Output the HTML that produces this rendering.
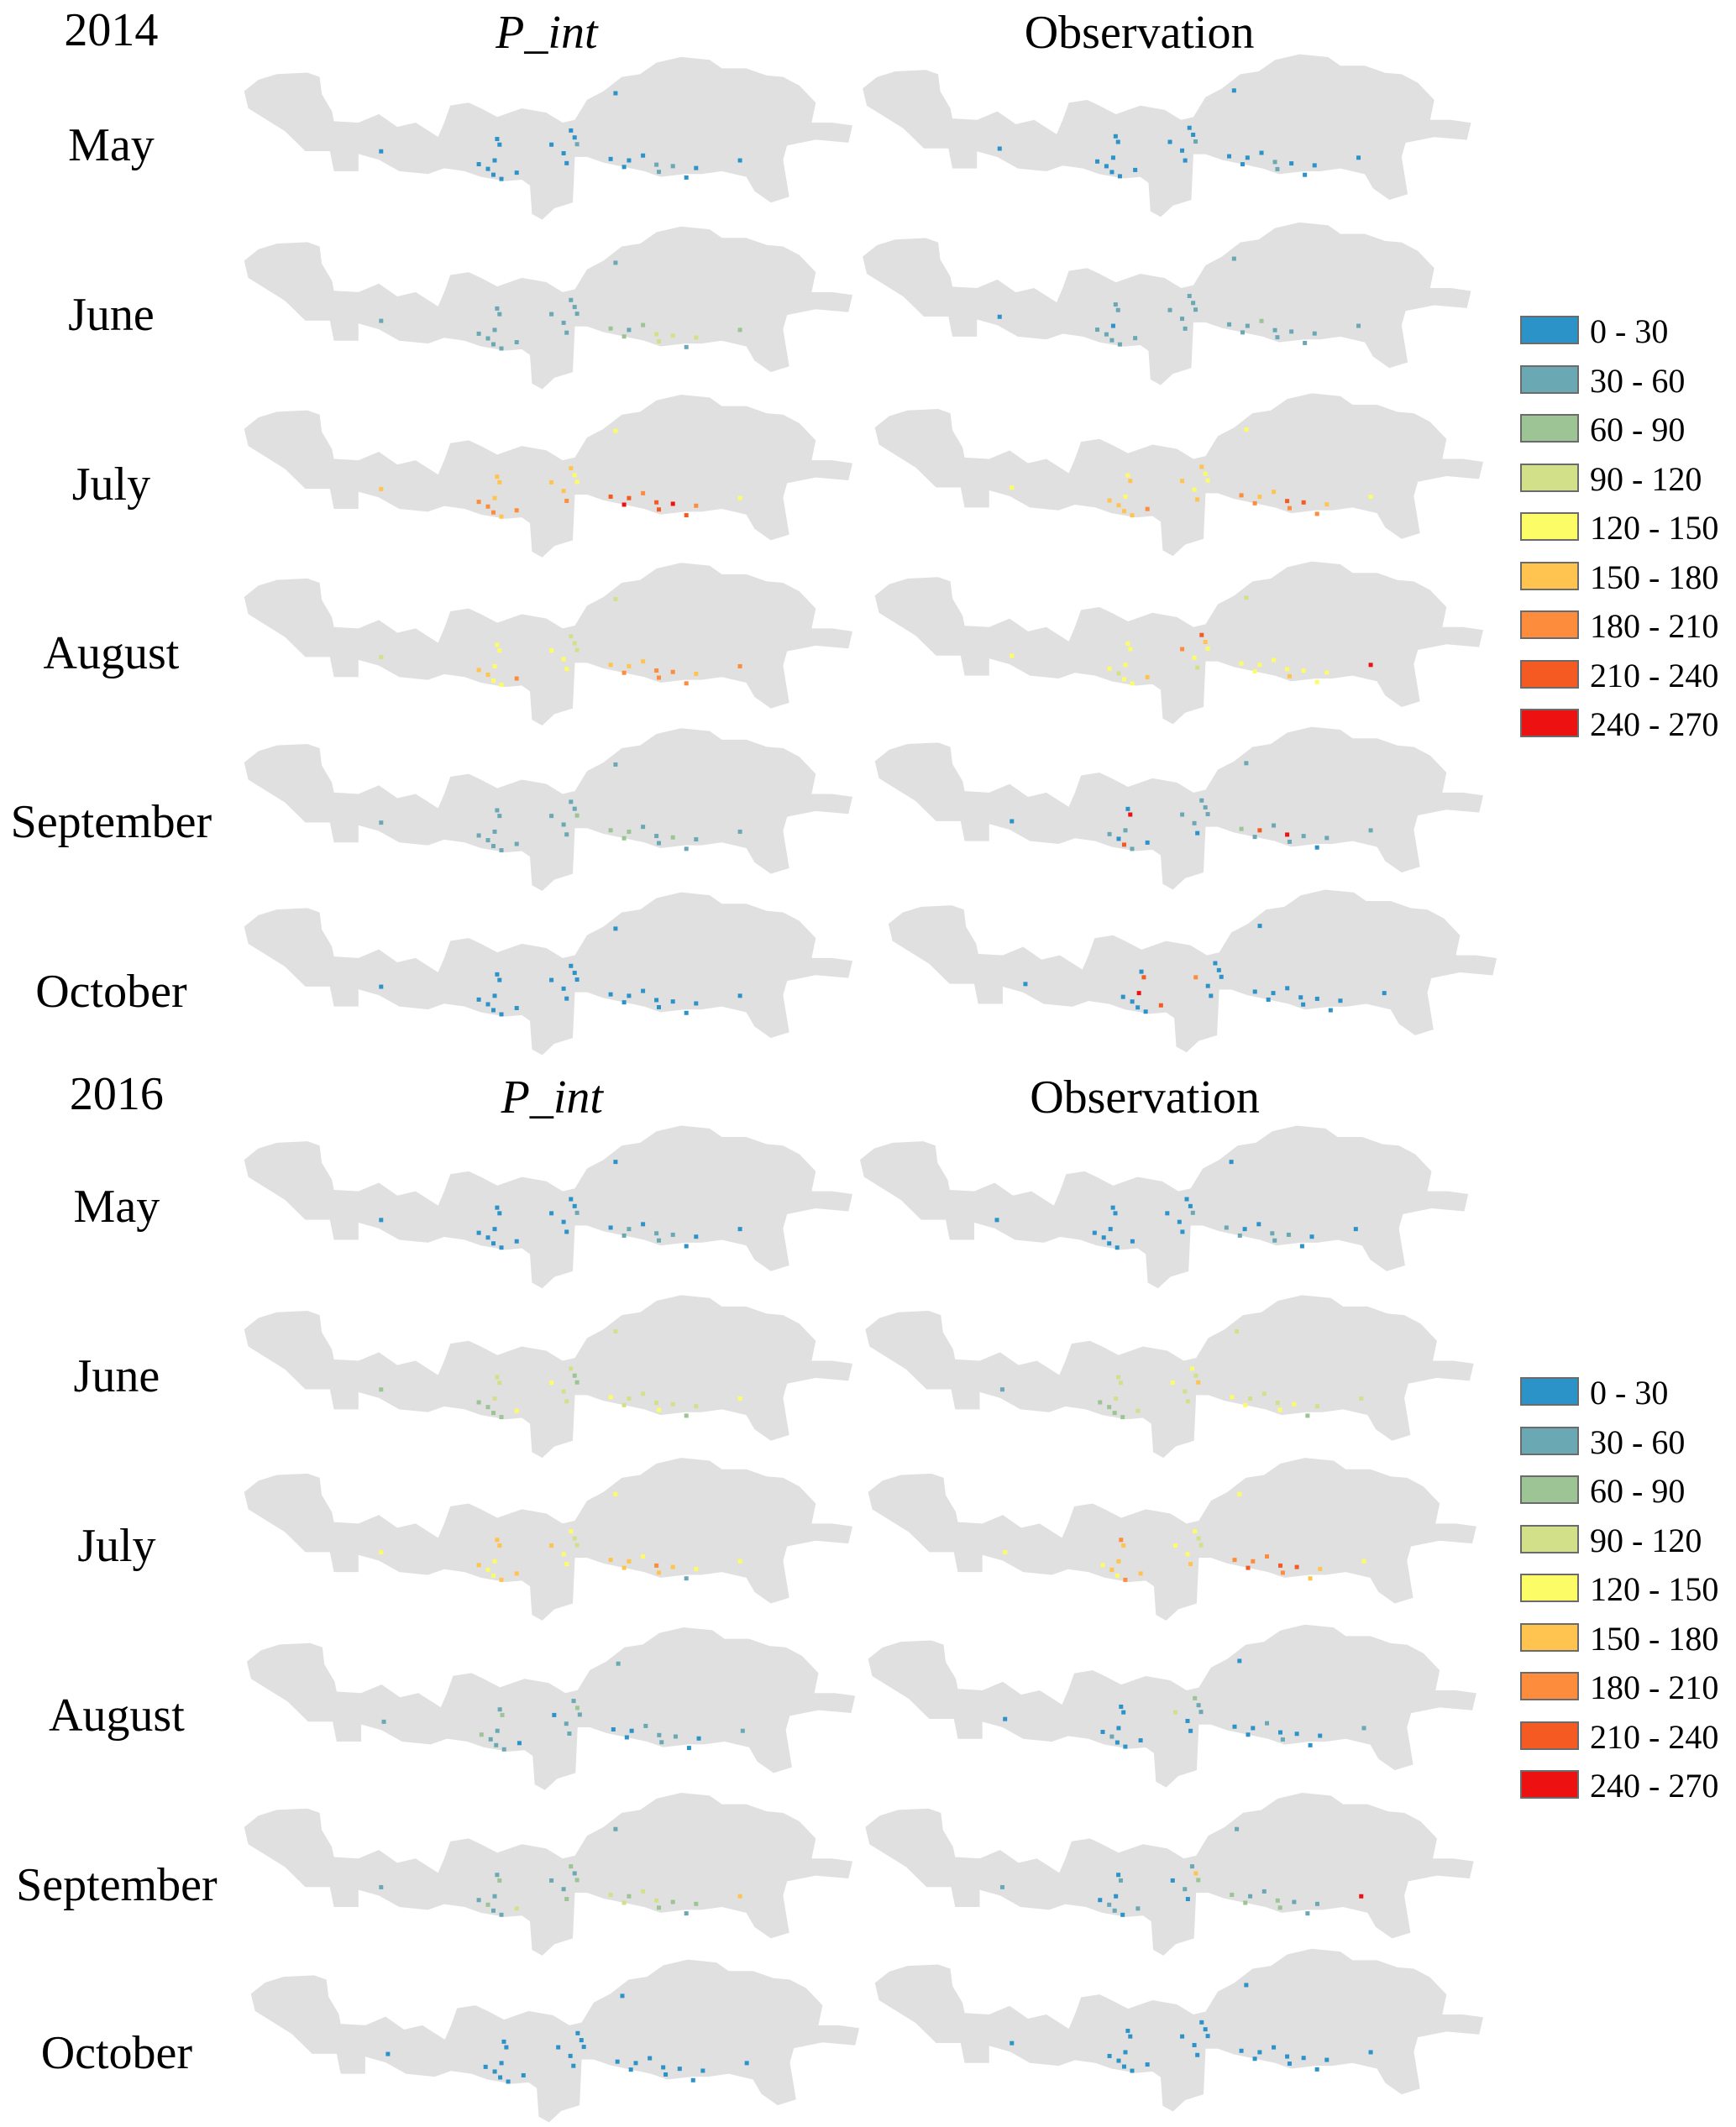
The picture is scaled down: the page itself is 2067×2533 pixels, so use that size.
<!DOCTYPE html>
<html><head><meta charset="utf-8"><style>
body{margin:0;background:#fff;}
#fig{position:relative;width:2067px;height:2533px;overflow:hidden;font-family:"Liberation Serif",serif;color:#000;}
.t{position:absolute;font-size:56px;transform:translate(-50%,-50%);white-space:nowrap;line-height:1;}
.lg{position:absolute;font-size:40px;line-height:1;white-space:nowrap;}
.sw{position:absolute;width:70px;height:34px;border:2px solid #6b6b6b;box-sizing:border-box;}
</style></head><body>
<div id="fig">
<svg id="maps" width="2067" height="2533" style="position:absolute;left:0;top:0"></svg>
</div>
<script>
// ---- data ----
const years=["2014","2016"];
const months=["May","June","July","August","September","October"];
const columns=["P_int","Observation"];
const classLabels=["0 - 30","30 - 60","60 - 90","90 - 120","120 - 150","150 - 180","180 - 210","210 - 240","240 - 270"];
const classColors=["#2b93c8","#6aa8b4","#9cc495","#d3e08a","#fcfc66","#fec44f","#fd8d3c","#f55a22","#ee1111"];
// grid cell locations (fractions of map bounding box)
const cellX=[0.411,0.415,0.407,0.396,0.405,0.418,0.443,0.500,0.520,0.525,0.532,0.538,0.542,0.597,0.619,0.627,0.650,0.672,0.676,0.699,0.721,0.737,0.809,0.381,0.221,0.605];
const cellY=[0.491,0.526,0.623,0.675,0.711,0.737,0.698,0.526,0.579,0.640,0.439,0.482,0.523,0.614,0.663,0.623,0.593,0.649,0.693,0.658,0.728,0.670,0.623,0.646,0.567,0.210];
// monthly values (mm) per panel: [year][column][month]
const vals2014P=[
[10,12,8,15,20,10,12,18,8,14,10,12,40,15,10,12,20,35,40,30,15,20,25,12,10,18],
[40,35,30,40,45,35,50,40,30,45,40,45,50,70,60,50,80,110,100,95,40,100,60,35,30,50],
[160,170,150,180,190,160,200,170,150,180,160,140,130,230,240,220,200,235,225,240,210,190,130,180,150,140],
[130,140,125,150,135,130,190,125,130,140,100,110,105,170,180,160,175,190,185,180,195,170,190,160,100,90],
[40,45,30,50,35,40,45,30,40,45,50,55,60,70,80,60,55,45,50,60,40,35,45,30,30,40],
[15,20,10,20,25,15,18,12,15,20,18,22,15,10,12,14,18,20,22,15,12,15,25,10,15,20]];
const vals2014O=[
[12,15,10,20,15,12,18,20,10,12,15,20,30,18,12,15,25,30,35,28,18,22,20,15,12,15],
[35,40,25,45,40,30,45,35,30,40,45,40,55,40,50,45,60,45,50,40,35,40,45,30,25,40],
[140,150,130,160,170,150,180,150,140,160,150,140,130,180,190,170,160,220,200,210,180,160,130,150,130,140],
[120,130,140,110,125,130,150,190,120,110,210,150,120,140,130,125,130,140,150,135,120,140,240,130,120,100],
[20,240,30,25,220,40,20,30,35,20,45,30,40,60,40,230,50,240,30,45,25,40,30,30,20,40],
[15,230,240,20,10,15,230,200,15,12,20,10,15,15,10,12,18,20,22,15,10,12,15,12,15,20]];
const vals2016P=[
[10,12,15,18,12,10,15,20,12,15,20,18,40,25,30,35,15,40,35,30,20,25,20,15,12,18],
[100,110,90,80,70,60,120,130,110,100,90,80,70,130,100,110,90,100,140,110,80,90,130,70,60,100],
[150,160,140,130,140,150,160,150,130,140,120,110,100,170,160,150,140,180,170,160,40,120,130,150,130,120],
[40,60,50,30,40,30,20,20,30,40,50,60,30,20,15,20,30,45,40,30,20,25,35,60,30,40],
[40,60,50,70,30,40,90,30,40,60,80,50,60,100,90,80,100,110,60,70,40,60,160,40,30,50],
[15,20,10,18,12,15,20,10,12,15,18,20,22,10,12,15,18,20,15,20,12,15,25,10,12,20]];
const vals2016O=[
[15,20,12,18,15,10,15,20,12,18,20,22,35,40,30,20,25,30,35,30,20,25,20,15,12,18],
[100,90,110,80,70,60,110,120,90,100,120,110,160,120,130,110,100,110,130,120,70,90,110,60,50,100],
[190,170,150,160,140,180,160,130,140,150,120,110,100,200,210,190,180,230,200,210,150,170,130,140,130,120],
[20,25,15,30,20,15,20,90,20,25,60,30,40,20,25,20,30,25,30,20,15,25,30,20,15,25],
[25,30,20,40,30,20,30,25,30,20,40,160,60,70,60,50,40,80,60,50,30,40,240,20,30,40],
[15,20,12,18,12,10,20,15,12,18,15,20,20,15,12,10,18,20,15,12,10,15,20,12,15,18]];
const panelVals={"2014":[vals2014P,vals2014O],"2016":[vals2016P,vals2016O]};
// ---- layout ----
const shape=[[20,190],[55,150],[100,130],[175,125],[205,140],[210,200],[235,260],[240,295],[300,300],[350,270],[395,315],[440,300],[495,350],[510,300],[525,240],[570,230],[600,250],[640,280],[700,250],[760,265],[800,300],[830,290],[860,220],[900,190],[945,140],[990,130],[1030,90],[1090,70],[1160,80],[1190,110],[1250,110],[1300,135],[1340,140],[1380,170],[1420,230],[1410,300],[1460,300],[1510,310],[1500,370],[1420,360],[1350,380],[1340,430],[1355,560],[1310,580],[1270,540],[1250,490],[1190,470],[1140,480],[1100,480],[1040,490],[1000,470],[900,440],[860,420],[830,420],[825,580],[780,600],[750,640],[725,620],[720,520],[700,500],[660,505],[600,490],[560,470],[510,460],[470,480],[400,470],[350,430],[300,410],[300,470],[240,470],[230,400],[170,400],[120,330],[30,250]];
const S=1.615, MW=450*S, MH=120*S;
const mapPos={"2014":[[[180,42],[180,167],[180,291],[180,415],[180,537],[180,658]],[[636,40],[636,164],[645,290],[645,414],[645,536],[655,656]]],
 "2016":[[[180,830],[180,955],[180,1075],[182,1200],[180,1322],[185,1445]],[[634,830],[638,955],[640,1075],[640,1198],[638,1322],[645,1437]]]};
const headY={"2014":22,"2016":807}, labelX={"2014":82,"2016":86};
const monthY={"2014":[107,232,357,482,606,731],"2016":[890,1015,1140,1265,1390,1514]};
const fig=document.getElementById('fig'), svg=document.getElementById('maps'), NS="http://www.w3.org/2000/svg";
function cls(v){return Math.max(0,Math.min(8,Math.floor(v/30)));}
function txt(s,x,y,name,italic){const d=document.createElement('div');d.className='t';d.textContent=s;d.style.left=(x*S)+'px';d.style.top=(y*S)+'px';if(italic)d.style.fontStyle='italic';


fig.appendChild(d);}
const polyPts=shape.map(p=>((p[0]-20)/1495*MW).toFixed(1)+','+((p[1]-70)/570*MH).toFixed(1)).join(' ');
years.forEach(y=>{
 txt(y,labelX[y],headY[y],'year-label-'+y);
 txt(columns[0],labelX[y]+321,headY[y]+2,'column-title-pint-'+y,true);
 txt(columns[1],labelX[y]+758,headY[y]+2,'column-title-observation-'+y);
 months.forEach((m,mi)=>{
  txt(m,labelX[y],monthY[y][mi],'month-label-'+y+'-'+m.toLowerCase());
  [0,1].forEach(ci=>{
   const [px,py]=mapPos[y][ci][mi];
   const g=document.createElementNS(NS,'g');
   g.setAttribute('transform','translate('+(px*S)+','+(py*S)+')');
   
   
   const p=document.createElementNS(NS,'polygon');
   p.setAttribute('points',polyPts);p.setAttribute('fill','#e0e0e0');
   
   
   g.appendChild(p);
   const v=panelVals[y][ci][mi];
   cellX.forEach((fx,k)=>{
    const r=document.createElementNS(NS,'rect');
    r.setAttribute('x',(fx*MW).toFixed(1));r.setAttribute('y',(cellY[k]*MH).toFixed(1));
    r.setAttribute('width',5);r.setAttribute('height',5);r.setAttribute('fill',classColors[cls(v[k])]);
    
    
    g.appendChild(r);
   });
   svg.appendChild(g);
  });
 });
});
[376,1640].forEach((ly,li)=>{
 const wrap=document.createElement('div');
 
 
 fig.appendChild(wrap);
 classLabels.forEach((lab,i)=>{
  const b=document.createElement('div');b.className='sw';b.style.left='1810px';b.style.top=(ly+i*58.5)+'px';b.style.background=classColors[i];
  
  
  wrap.appendChild(b);
  const t=document.createElement('div');t.className='lg';t.textContent=lab;t.style.left='1893px';t.style.top=(ly+i*58.5-1)+'px';
  
  
  wrap.appendChild(t);
 });
});
</script>
</body></html>
